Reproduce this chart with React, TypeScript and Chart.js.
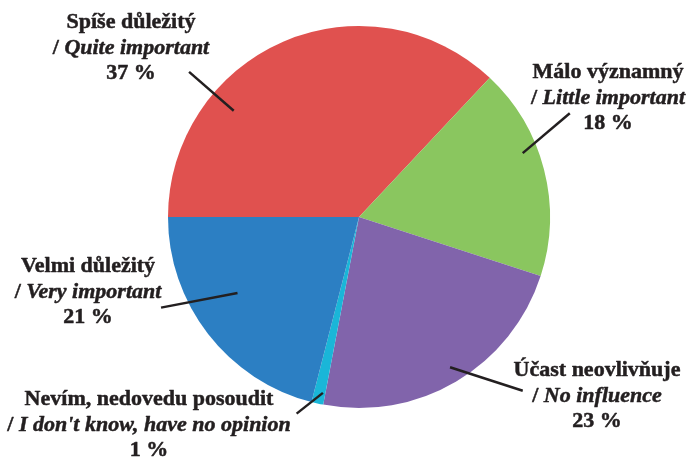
import React, { useEffect, useRef } from "react";
import { Chart, registerables } from "chart.js";

Chart.register(...registerables);

// ---- data ----
const czechLabels = [
  "Spíše důležitý",
  "Málo významný",
  "Účast neovlivňuje",
  "Nevím, nedovedu posoudit",
  "Velmi důležitý",
];
const englishLabels = [
  "Quite important",
  "Little important",
  "No influence",
  "I don't know, have no opinion",
  "Very important",
];
const shares = [37, 18, 23, 1, 21];
const sliceColors = ["#E0514F", "#8AC65F", "#8164AB", "#1AB6D8", "#2C7FC3"];

// ---- annotation layout (text block centres in px, leader lines in polar coords) ----
const labelCentres = [
  { x: 131, y: 48 },
  { x: 608, y: 98 },
  { x: 597, y: 396 },
  { x: 149, y: 425 },
  { x: 88, y: 292 },
];
const leaderLines = [
  { a1: 310.3, r1: 0.86, a2: 310.5, r2: 1.17 },
  { a1: 68.7, r1: 0.92, a2: 63.8, r2: 1.23 },
  { a1: 148.8, r1: 0.92, a2: 136.7, r2: 1.25 },
  { a1: 191.6, r1: 0.94, a2: 197.6, r2: 1.08 },
  { a1: 238, r1: 0.75, a2: 245.4, r2: 1.14 },
];

const FONT_FAMILY = '"Liberation Serif", "Times New Roman", serif';
const FONT_SIZE = 22;
const LINE_GAP = 25.5;
const TEXT_COLOR = "#231F20";

const labelPlugin = {
  id: "pieLabels",
  afterDraw(chart: any) {
    const ctx = chart.ctx as CanvasRenderingContext2D;
    const meta = chart.getDatasetMeta(0);
    const arc0 = meta.data[0] as any;
    const cx = arc0.x;
    const cy = arc0.y;
    const R = arc0.outerRadius;
    const pt = (deg: number, rf: number) => {
      const t = (deg * Math.PI) / 180;
      return { x: cx + R * rf * Math.sin(t), y: cy - R * rf * Math.cos(t) };
    };
    ctx.save();
    // leader lines
    ctx.strokeStyle = TEXT_COLOR;
    ctx.lineWidth = 2.5;
    ctx.lineCap = "butt";
    leaderLines.forEach((l) => {
      const p1 = pt(l.a1, l.r1);
      const p2 = pt(l.a2, l.r2);
      ctx.beginPath();
      ctx.moveTo(p1.x, p1.y);
      ctx.lineTo(p2.x, p2.y);
      ctx.stroke();
    });
    // labels
    ctx.fillStyle = TEXT_COLOR;
    ctx.strokeStyle = TEXT_COLOR;
    ctx.lineWidth = 0.5;
    ctx.lineJoin = "round";
    ctx.textBaseline = "middle";
    const bold = `bold ${FONT_SIZE}px ${FONT_FAMILY}`;
    const boldItalic = `italic bold ${FONT_SIZE}px ${FONT_FAMILY}`;
    const put = (t: string, x: number, y: number) => {
      ctx.fillText(t, x, y);
      ctx.strokeText(t, x, y);
    };
    czechLabels.forEach((cz, i) => {
      const c = labelCentres[i];
      // line 1
      ctx.font = bold;
      ctx.textAlign = "center";
      put(cz, c.x, c.y - LINE_GAP);
      // line 2 : "/ " upright + italic english
      const slash = "/ ";
      ctx.font = bold;
      const ws = ctx.measureText(slash).width;
      ctx.font = boldItalic;
      const we = ctx.measureText(englishLabels[i]).width;
      const start = c.x - (ws + we) / 2;
      ctx.textAlign = "left";
      ctx.font = bold;
      put(slash, start, c.y);
      ctx.font = boldItalic;
      put(englishLabels[i], start + ws, c.y);
      // line 3
      ctx.font = bold;
      ctx.textAlign = "center";
      put(`${shares[i]} %`, c.x, c.y + LINE_GAP);
    });
    ctx.restore();
  },
};

export default function App() {
  const canvasRef = useRef<HTMLCanvasElement | null>(null);

  useEffect(() => {
    document.body.style.margin = "0";
    const canvas = canvasRef.current;
    if (!canvas) return;
    const chart = new Chart(canvas, {
      type: "pie",
      data: {
        labels: czechLabels,
        datasets: [
          {
            data: shares,
            backgroundColor: sliceColors,
            borderWidth: 0,
          },
        ],
      },
      options: {
        responsive: false,
        maintainAspectRatio: false,
        devicePixelRatio: 1,
        animation: false,
        rotation: -90,
        layout: { padding: { left: 168, right: 142, top: 26, bottom: 49 } },
        plugins: {
          legend: { display: false },
          tooltip: { enabled: false },
        },
      },
      plugins: [labelPlugin],
    });
    return () => chart.destroy();
  }, []);

  return (
    <div style={{ width: 692, height: 457, background: "#ffffff" }}>
      <canvas ref={canvasRef} width={692} height={457} style={{ display: "block" }} />
    </div>
  );
}
